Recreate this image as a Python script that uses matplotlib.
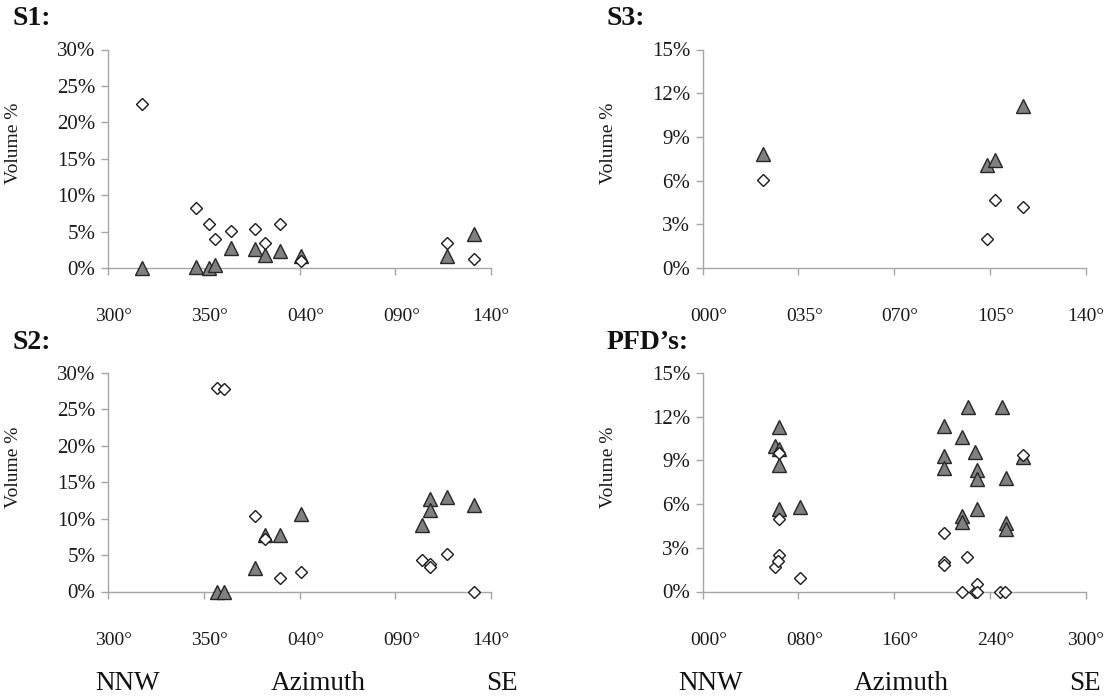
import numpy as np
import matplotlib
matplotlib.use("Agg")
import matplotlib.pyplot as plt
import matplotlib.transforms as mtrans
from matplotlib.ticker import FuncFormatter

plt.rcParams['font.family'] = ['Liberation Serif', 'DejaVu Serif']

# ---- data: azimuth (deg) and volume (%) ----
# S1
s1_dia_az = [318, 346, 353, 356, 4, 17, 22, 30, 41, 117, 131]
s1_dia_vol = [22.5, 8.2, 6.1, 4.0, 5.1, 5.3, 3.4, 6.1, 0.9, 3.4, 1.2]
s1_tri_az = [318, 346, 353, 356, 4, 17, 22, 30, 41, 117, 131]
s1_tri_vol = [0.0, 0.2, 0.0, 0.4, 2.8, 2.6, 1.8, 2.3, 1.7, 1.6, 4.7]

# S2
s2_dia_az = [357, 0.5, 17, 22, 30, 41, 104, 108, 108, 117, 131]
s2_dia_vol = [27.9, 27.8, 10.4, 7.2, 1.9, 2.7, 4.3, 3.8, 3.4, 5.1, 0.0]
s2_tri_az = [357, 0.5, 17, 22, 30, 41, 104, 108, 108, 117, 131]
s2_tri_vol = [0.0, 0.0, 3.2, 7.8, 7.8, 10.7, 9.1, 12.7, 11.2, 13.0, 11.9]

# S3
s3_dia_az = [22, 104, 107, 117]
s3_dia_vol = [6.05, 2.0, 4.7, 4.2]
s3_tri_az = [22, 104, 107, 117]
s3_tri_vol = [7.8, 7.1, 7.4, 11.1]

# PFD's
pfd_tri_az = [60, 64, 64, 64, 64, 81, 202, 202, 202, 217, 217, 217, 222,
              227.5, 229.5, 229.5, 229.5, 250, 253, 253, 253, 268]
pfd_tri_vol = [10.0, 11.3, 9.8, 8.7, 5.65, 5.8, 11.35, 9.3, 8.5, 10.6, 5.15, 4.8, 12.65,
               9.6, 8.35, 7.7, 5.65, 12.65, 7.8, 4.7, 4.3, 9.25]
pfd_dia_az = [60, 64, 64, 64, 63, 81, 202, 202, 202, 217, 221, 227.5, 229.5, 229.5,
              248.5, 252.5, 268]
pfd_dia_vol = [1.7, 9.5, 5.0, 2.5, 2.1, 0.9, 4.0, 2.05, 1.85, 0.0, 2.35, 0.0, 0.5, 0.0,
               0.0, 0.0, 9.4]

# axis ticks / labels
ticks_a = [300, 350, 400, 450, 500]
labels_a = ['300°', '350°', '040°', '090°', '140°']
ticks_s3 = [0, 35, 70, 105, 140]
labels_s3 = ['000°', '035°', '070°', '105°', '140°']
ticks_pfd = [0, 80, 160, 240, 320]
labels_pfd = ['000°', '080°', '160°', '240°', '300°']

SPINE = '#a6a6a6'
TRI_FC = '#808080'
TRI_EC = '#262626'


def unwrap(az, start):
    az = np.asarray(az, dtype=float)
    return np.where(az < start, az + 360, az)


def draw_panel(fig, rect, title, dia_x, dia_y, tri_x, tri_y, xlim, xticks, xlabels, ymax, ystep):
    ax = fig.add_axes(rect)
    ax.plot(tri_x, tri_y, ls='none', marker='^', ms=9.5, mfc=TRI_FC, mec=TRI_EC, mew=1.0,
            clip_on=False, zorder=3)
    ax.plot(dia_x, dia_y, ls='none', marker='D', ms=6.2, mfc='white', mec='#1a1a1a', mew=1.0,
            clip_on=False, zorder=4)
    ax.set_xlim(*xlim)
    ax.set_ylim(0, ymax)
    ax.set_xticks(xticks)
    ax.set_xticklabels(xlabels)
    ax.set_yticks(np.arange(0, ymax + 0.01, ystep))
    ax.yaxis.set_major_formatter(FuncFormatter(lambda v, p: '%d%%' % round(v)))
    for s in ['top', 'right']:
        ax.spines[s].set_visible(False)
    for s in ['left', 'bottom']:
        ax.spines[s].set_color(SPINE)
        ax.spines[s].set_linewidth(1.0)
    ax.tick_params(axis='x', direction='out', length=5, width=1.0, color=SPINE,
                   pad=24, labelsize=14, labelcolor='#1a1a1a')
    ax.tick_params(axis='y', direction='out', length=5, width=1.0, color=SPINE,
                   pad=4, labelsize=15, labelcolor='#1a1a1a')
    # labels sit a little right of their ticks (last one stays inside the figure)
    shift = mtrans.ScaledTranslation(6 / 100, 0, fig.dpi_scale_trans)
    for lab in ax.get_xticklabels()[:-1]:
        lab.set_transform(lab.get_transform() + shift)
    ax.set_ylabel('Volume %', fontsize=14, color='#1a1a1a')
    ax.yaxis.set_label_coords(-0.225, 0.57)
    l, b, w, h = rect
    fig.text(l - 96 / 1105, b + h + 31 / 697, title, fontsize=20, fontweight='bold',
             ha='left', va='center', color='#111111')
    return ax


fig = plt.figure(figsize=(11.05, 6.97), dpi=100)

W = 383 / 1105
H = 218.5 / 697
left_l = 108 / 1105
left_r = 702.7 / 1105
bot_top = 1 - 268 / 697
bot_bot = 1 - 591.5 / 697

draw_panel(fig, [left_l, bot_top, W, H], 'S1:',
           unwrap(s1_dia_az, 300), s1_dia_vol, unwrap(s1_tri_az, 300), s1_tri_vol,
           (300, 500), ticks_a, labels_a, 30, 5)
draw_panel(fig, [left_r, bot_top, W, H], 'S3:',
           s3_dia_az, s3_dia_vol, s3_tri_az, s3_tri_vol,
           (0, 140), ticks_s3, labels_s3, 15, 3)
draw_panel(fig, [left_l, bot_bot, W, H], 'S2:',
           unwrap(s2_dia_az, 300), s2_dia_vol, unwrap(s2_tri_az, 300), s2_tri_vol,
           (300, 500), ticks_a, labels_a, 30, 5)
draw_panel(fig, [left_r, bot_bot, W, H], 'PFD’s:',
           pfd_dia_az, pfd_dia_vol, pfd_tri_az, pfd_tri_vol,
           (0, 320), ticks_pfd, labels_pfd, 15, 3)

# compass / axis captions under the lower panels
for x0 in [128, 711]:
    yb = 1 - 683 / 697
    fig.text(x0 / 1105, yb, 'NNW', fontsize=19.5, ha='center', va='center', color='#111111')
    fig.text((x0 + 190) / 1105, yb, 'Azimuth', fontsize=19.5, ha='center', va='center', color='#111111')
    fig.text((x0 + 374) / 1105, yb, 'SE', fontsize=19.5, ha='center', va='center', color='#111111')

fig.savefig('out.png', dpi=100)
